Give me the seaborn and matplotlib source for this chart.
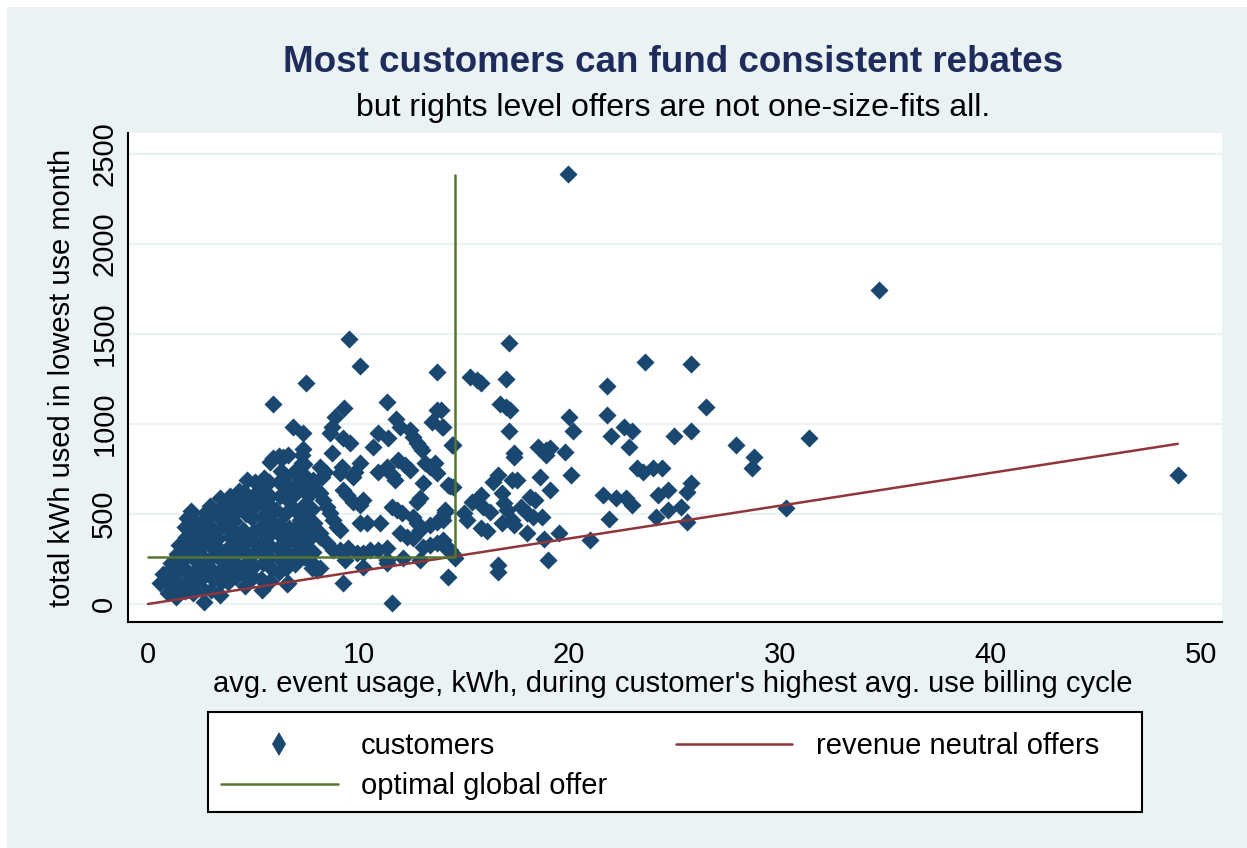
import pandas as pd
import matplotlib
matplotlib.use("Agg")
import matplotlib.pyplot as plt
from matplotlib.lines import Line2D
from matplotlib.patches import Rectangle
import seaborn as sns

# stata s2color look
BG = "#EAF2F3"
NAVY = "#1A476F"
MAROON = "#90353B"
OLIVE = "#55752F"
TITLE_COL = "#1E2C5C"

# 1. Data
# dense cluster of small customers (x = avg event kWh, y = kWh in lowest month)
dense_x = [0.55, 0.7, 0.95, 1.05, 0.9, 1.1, 1.35, 1.45, 1.3, 1.5, 1.4, 1.45,
           1.75, 1.85, 1.8, 1.7, 1.9, 1.8, 1.75, 1.85,
           2.15, 2.25, 2.2, 2.3, 2.1, 2.25, 2.2, 2.15, 2.05,
           2.65, 2.55, 2.6, 2.7, 2.5, 2.65, 2.6, 2.55, 2.7,
           3.0, 3.1, 2.95, 3.05, 3.0, 3.1, 2.9, 3.05, 2.95,
           3.4, 3.45, 3.35, 3.5, 3.4, 3.3, 3.45, 3.4, 3.5, 3.4,
           3.8, 3.75, 3.85, 3.8, 3.9, 3.75, 3.85, 3.8, 3.9,
           4.2, 4.25, 4.15, 4.3, 4.2, 4.1, 4.25, 4.2, 4.3,
           4.6, 4.55, 4.65, 4.6, 4.7, 4.5, 4.65, 4.6, 4.55, 4.7,
           5.0, 5.05, 4.95, 5.1, 5.0, 4.95, 5.05, 5.0, 5.1,
           5.4, 5.35, 5.45, 5.4, 5.5, 5.3, 5.45, 5.4, 5.35, 5.5,
           5.8, 5.85, 5.75, 5.8, 5.9, 5.7, 5.85, 5.8, 5.75, 5.8,
           6.2, 6.25, 6.15, 6.3, 6.2, 6.1, 6.25, 6.2, 6.3, 6.2,
           6.6, 6.55, 6.65, 6.6, 6.7, 6.5, 6.65, 6.6, 6.55, 6.65,
           7.0, 7.05, 6.95, 7.1, 7.0, 6.9, 7.05, 7.0,
           7.4, 7.45, 7.35, 7.5, 7.4, 7.3, 7.45, 7.4, 7.35,
           7.8, 7.85, 7.75, 7.9, 7.8, 7.7, 7.85]
dense_y = [115, 165, 60, 110, 175, 230, 40, 100, 160, 215, 280, 330,
           70, 130, 190, 250, 310, 370, 430, 480,
           60, 120, 180, 240, 300, 360, 420, 470, 515,
           10, 90, 150, 210, 270, 330, 390, 450, 505,
           80, 140, 200, 260, 320, 380, 440, 500, 545,
           50, 120, 180, 240, 300, 360, 420, 480, 540, 590,
           120, 190, 250, 310, 370, 430, 490, 550, 600,
           150, 210, 270, 330, 390, 460, 520, 580, 630,
           100, 170, 230, 290, 350, 410, 500, 560, 620, 690,
           150, 210, 270, 340, 400, 480, 540, 600, 680,
           80, 140, 230, 290, 360, 420, 490, 560, 630, 700,
           130, 200, 260, 320, 400, 470, 540, 600, 680, 790,
           180, 250, 310, 380, 440, 520, 600, 680, 740, 820,
           110, 200, 270, 340, 420, 500, 580, 650, 710, 830,
           220, 290, 360, 440, 520, 600, 660, 740,
           260, 330, 400, 470, 550, 640, 710, 780, 860,
           200, 290, 370, 450, 530, 610, 690]

# customers between ~6 and the global offer line
mid_x = [5.94, 7.5, 6.89, 7.36, 7.32, 7.32, 5.94, 6.41, 7.79, 7.55, 8.03, 7.22,
         6.89, 7.22, 7.22, 7.84, 8.17, 9.12, 7.79, 8.03, 6.65,
         9.55, 10.07, 13.73, 11.35, 9.31, 8.88, 8.74, 8.65, 13.73, 13.49, 13.97,
         11.78, 11.97, 12.45, 12.59, 10.93, 11.4, 9.26, 9.6, 10.69, 12.78, 13.02,
         12.92, 14.49, 8.74, 10.07, 9.83, 9.74, 8.17, 8.41, 8.27, 9.22, 9.12,
         10.93, 11.35, 11.59, 11.73, 11.88, 12.21, 12.45, 13.16, 13.4, 13.63,
         13.73, 13.06, 14.25, 14.49, 9.26, 9.45, 9.74, 10.07, 10.21, 12.78, 12.92,
         8.17, 8.31, 8.5, 8.65, 8.79, 8.98, 11.59, 11.83, 12.07, 14.11, 13.97,
         13.73, 13.4, 12.59, 12.78, 12.92, 10.07, 10.4, 11.02, 11.97, 12.3, 12.59,
         8.17, 8.5, 8.79, 9.12, 9.5, 10.55, 10.93, 11.35, 13.06, 13.4, 13.73,
         14.11, 14.35, 10.21, 9.93, 9.36, 10.21, 11.35, 12.11, 12.92, 9.26,
         11.59, 8.17, 14.0, 14.2, 14.44, 11.35, 14.1, 14.0, 14.35, 13.9, 14.0,
         14.45]
mid_y = [1111, 1228, 983, 950, 828, 783, 811, 817, 672, 617, 633, 706,
         650, 506, 467, 428, 394, 411, 228, 189, 117,
         1472, 1322, 1289, 1122, 1089, 1039, 983, 950, 1078, 1011, 983,
         1028, 983, 967, 928, 950, 922, 922, 894, 872, 894, 856,
         872, 883, 839, 783, 733, 706, 761, 733, 706, 761, 728,
         733, 761, 717, 689, 800, 772, 744, 783, 761, 783,
         728, 672, 661, 650, 633, 606, 567, 550, 578, 567, 589,
         617, 578, 539, 506, 467, 428, 539, 522, 506, 522, 483,
         456, 439, 483, 450, 411, 450, 450, 450, 394, 372, 367,
         372, 339, 300, 300, 311, 300, 300, 311, 317, 328, 339,
         317, 300, 283, 283, 244, 206, 244, 256, 244, 117,
         6, 200, 356, 317, 283, 228, 511, 467, 656, 1078, 983,
         883]

# customers beyond the global offer threshold
tail_x = [15.3, 15.6, 15.8, 17.0, 21.8, 23.6, 25.8, 16.7, 17.0, 17.2, 21.8, 20.0,
          26.5, 17.15, 20.2, 22.6, 23.0, 22.0, 25.0, 25.8, 31.4, 22.85, 18.5,
          18.9, 19.1, 18.9, 19.8, 27.9, 17.4, 17.4, 28.8, 28.7, 23.2, 23.5, 24.0,
          24.4, 16.6, 16.4, 17.3, 17.5, 18.6, 20.1, 25.8, 25.6, 19.1, 21.6, 22.2,
          22.7, 23.0, 24.2, 24.7, 15.8, 15.4, 15.9, 16.25, 16.8, 16.9, 17.05,
          16.8, 17.7, 18.0, 18.3, 18.7, 18.15, 18.4, 15.0, 15.15, 24.7, 25.3,
          24.1, 21.9, 30.3, 25.6, 15.8, 16.1, 17.4, 17.3, 18.0, 19.5, 18.8, 21.0,
          14.6, 16.6, 16.6, 19.0, 14.25, 17.15, 19.95, 34.7, 48.9]
tail_y = [1261, 1244, 1228, 1250, 1211, 1344, 1333, 1111, 1094, 1078, 1050, 1039,
          1094, 961, 961, 983, 961, 933, 933, 961, 922, 872, 872,
          856, 867, 828, 844, 883, 839, 817, 817, 756, 756, 733, 756,
          756, 717, 678, 689, 689, 706, 717, 672, 622, 633, 606, 589,
          589, 550, 606, 633, 606, 567, 539, 511, 617, 561, 522,
          450, 539, 506, 483, 483, 594, 578, 506, 467, 522, 539,
          483, 472, 533, 456, 422, 406, 439, 467, 394, 394, 361, 356,
          256, 217, 178, 244, 150, 1450, 2389, 1745, 717]

# reference lines
neutral_x = [0, 48.9]
neutral_y = [0, 890]
global_x = [0, 14.6, 14.6]
global_y = [261, 261, 2383]

xticks = [0, 10, 20, 30, 40, 50]
yticks = [0, 500, 1000, 1500, 2000, 2500]

customers = pd.DataFrame({
    "event_kwh": dense_x + mid_x + tail_x,
    "low_kwh": dense_y + mid_y + tail_y,
})

# 2. Figure setup
sns.set_style("white")
plt.rcParams["font.family"] = ["Liberation Sans", "DejaVu Sans"]
plt.rcParams["text.color"] = "black"
plt.rcParams["axes.labelcolor"] = "black"

W, H = 1247, 848
fig = plt.figure(figsize=(W / 100, H / 100), dpi=100, facecolor="white")
fig.patches.append(Rectangle((7 / W, 0), 1, 1 - 7 / H, transform=fig.transFigure,
                             facecolor=BG, edgecolor="none", zorder=-10))

ax = fig.add_axes([128 / W, 1 - 622 / H, 1094 / W, 489 / H])
ax.set_facecolor("white")

# 3. Draw
sns.scatterplot(data=customers, x="event_kwh", y="low_kwh", marker="D", s=85,
                color=NAVY, linewidth=0, ax=ax, zorder=3, legend=False)
sns.lineplot(x=neutral_x, y=neutral_y, color=MAROON, lw=1.8, sort=False,
             estimator=None, ax=ax, zorder=4)
sns.lineplot(x=global_x, y=global_y, color=OLIVE, lw=1.8, sort=False,
             estimator=None, ax=ax, zorder=4)

# 4. Axes styling
ax.set_xlim(-0.95, 51.0)
ax.set_ylim(-100, 2617)
ax.set_xticks(xticks)
ax.set_yticks(yticks)
ax.set_xticklabels([str(t) for t in xticks])
ax.set_yticklabels([str(t) for t in yticks], rotation=90, va="center")
ax.yaxis.grid(True, color=BG, lw=1.6)
ax.xaxis.grid(False)
ax.set_axisbelow(True)
for side in ["top", "right"]:
    ax.spines[side].set_visible(False)
for side in ["left", "bottom"]:
    ax.spines[side].set_color("black")
    ax.spines[side].set_linewidth(1.5)
ax.tick_params(axis="both", direction="out", length=9, width=1.3,
               color="black", labelsize=21, labelcolor="black")
ax.tick_params(axis="x", pad=5)
ax.tick_params(axis="y", pad=-2)

ax.set_xlabel("avg. event usage, kWh, during customer's highest avg. use billing cycle",
              fontsize=21, va="center")
ax.xaxis.set_label_coords(0.498, -0.127)
ax.set_ylabel("total kWh used in lowest use month", fontsize=21, va="center")
ax.yaxis.set_label_coords(-0.0603, 0.499)

fig.text(0.54, 1 - 62 / H, "Most customers can fund consistent rebates",
         ha="center", va="center", fontsize=26.5, fontweight="bold", color=TITLE_COL)
fig.text(0.54, 1 - 108 / H, "but rights level offers are not one-size-fits all.",
         ha="center", va="center", fontsize=23, color="black")

# 5. Legend (box drawn separately so it matches the stata frame)
fig.patches.append(Rectangle((208 / W, 1 - 812 / H), 934 / W, 100 / H,
                             transform=fig.transFigure, facecolor="white",
                             edgecolor="black", lw=1.5, zorder=1))
handles = [
    Line2D([], [], marker="d", ls="", color=NAVY, markersize=12, markeredgewidth=0),
    Line2D([], [], color=OLIVE, lw=1.8),
    Line2D([], [], color=MAROON, lw=1.8),
]
labels = ["customers", "optimal global offer", "revenue neutral offers"]
leg = fig.legend(handles, labels, ncol=2, loc="center",
                 bbox_to_anchor=((675 - 15) / W, 1 - 766 / H),
                 fontsize=21, frameon=False,
                 handlelength=4.0, handletextpad=0.8, columnspacing=2.35,
                 labelspacing=0.42, borderpad=0.5)

fig.savefig("out.png", dpi=100, facecolor=fig.get_facecolor())
